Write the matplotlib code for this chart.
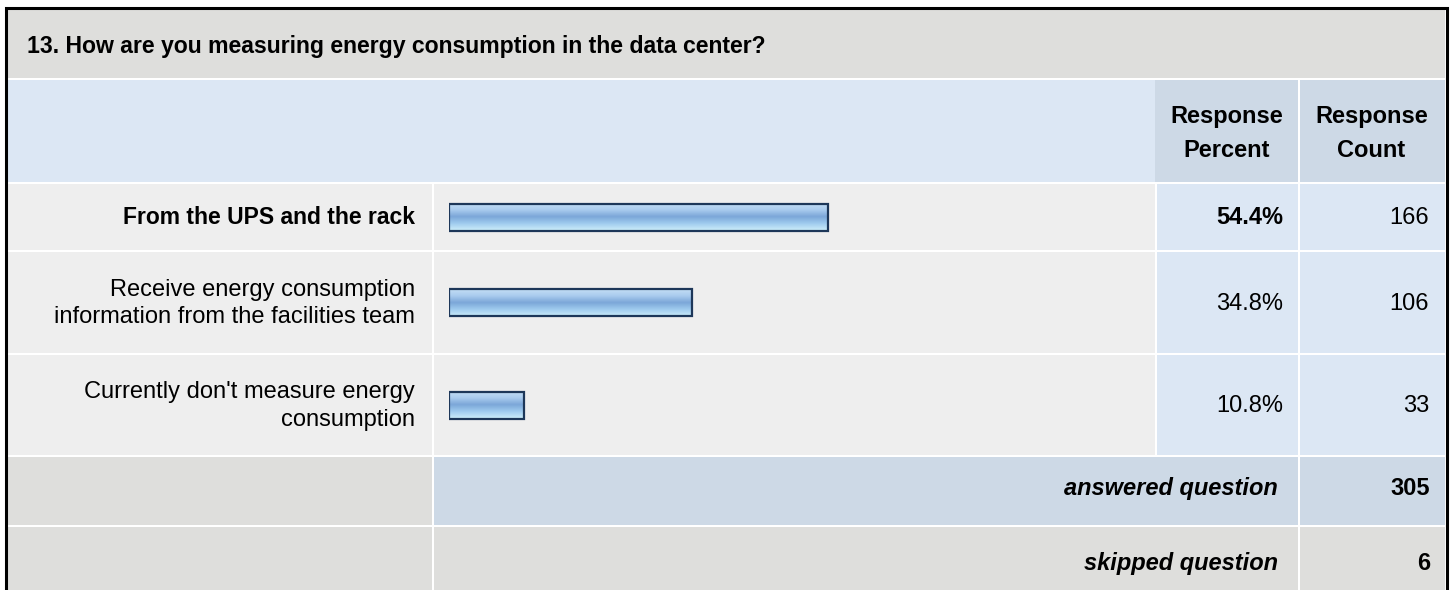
import numpy as np
import matplotlib.pyplot as plt
from matplotlib.colors import LinearSegmentedColormap
from matplotlib.patches import Rectangle

# Survey question 13 results
question = "13. How are you measuring energy consumption in the data center?"
answers = [
    "From the UPS and the rack",
    "Receive energy consumption\ninformation from the facilities team",
    "Currently don't measure energy\nconsumption",
]
percents = [54.4, 34.8, 10.8]
counts = [166, 106, 33]
answered = 305
skipped = 6
header_cols = ["Response\nPercent", "Response\nCount"]

W, H = 1452, 590
FONT = "Liberation Sans"
FS = 17

plt.rcParams['font.family'] = [FONT, 'DejaVu Sans']

fig = plt.figure(figsize=(W / 100, H / 100), dpi=100)
ax = fig.add_axes([0, 0, 1, 1])
ax.set_xlim(0, W)
ax.set_ylim(H, 0)
ax.axis('off')

GRAY = '#dededc'
LIGHT = '#eeeeee'
BLUE = '#dce7f4'
HEAD = '#cdd9e6'


def cell(x0, x1, y0, y1, color):
    ax.add_patch(Rectangle((x0, y0), x1 - x0, y1 - y0, facecolor=color,
                           edgecolor='none', zorder=1))


# column edges and row bands (pixels)
c0, c1, c2, c3, c4 = 7, 432, 1155, 1298, 1445
gap = 2
rows = [(184, 250), (252, 353), (355, 455)]

# title band and header band
cell(c0, c4, 9, 78, GRAY)
cell(c0, c2, 80, 182, BLUE)
cell(c2, c3, 80, 182, HEAD)
cell(c3 + gap, c4, 80, 182, HEAD)

for (y0, y1) in rows:
    cell(c0, c1, y0, y1, LIGHT)
    cell(c1 + gap, c2, y0, y1, LIGHT)
    cell(c2 + gap, c3, y0, y1, BLUE)
    cell(c3 + gap, c4, y0, y1, BLUE)

# summary rows
cell(c0, c1, 457, 525, GRAY)
cell(c1 + gap, c3, 457, 525, HEAD)
cell(c3 + gap, c4, 457, 525, HEAD)
cell(c0, c1, 527, 600, GRAY)
cell(c1 + gap, c3, 527, 600, GRAY)
cell(c3 + gap, c4, 527, 600, GRAY)

# outer frame
ax.plot([6, 6, 1446.5, 1446.5], [600, 8, 8, 600], color='black', lw=2.2,
        solid_joinstyle='miter', zorder=3)

# texts
ax.text(27, 53, question, fontsize=16.6, fontweight='bold', va='baseline', zorder=4)
ax.text((c2 + c3) / 2, 157, header_cols[0], fontsize=FS, fontweight='bold',
        ha='center', va='baseline', linespacing=1.6, zorder=4)
ax.text((c3 + c4) / 2, 157, header_cols[1], fontsize=FS, fontweight='bold',
        ha='center', va='baseline', linespacing=1.6, zorder=4)

for i, ((y0, y1), label, pct, n) in enumerate(zip(rows, answers, percents, counts)):
    yc = (y0 + y1) / 2
    bold = i == 0
    ax.text(415, yc + 1, label, fontsize=16.5 if bold else FS,
            fontweight='bold' if bold else 'normal', ha='right',
            va='center', linespacing=1.3, zorder=4)
    ax.text(1283, yc + 1, f"{pct:.1f}%", fontsize=FS,
            fontweight='bold' if bold else 'normal',
            ha='right', va='center', zorder=4)
    ax.text(1429, yc + 1, str(n), fontsize=FS, ha='right', va='center', zorder=4)

ax.text(1278, 495, "answered question", fontsize=FS, fontweight='bold',
        fontstyle='italic', ha='right', va='baseline', zorder=4)
ax.text(1430, 495, str(answered), fontsize=FS, fontweight='bold',
        ha='right', va='baseline', zorder=4)
ax.text(1278, 570, "skipped question", fontsize=FS, fontweight='bold',
        fontstyle='italic', ha='right', va='baseline', zorder=4)
ax.text(1430, 570, str(skipped), fontsize=FS, fontweight='bold',
        ha='right', va='baseline', zorder=4)

# bar area: 0-100 % across the bar column, pixel rows vertically
bx0, bx1 = 449, 1146
bax = fig.add_axes([bx0 / W, 0, (bx1 - bx0) / W, 1])
bax.axis('off')
bax.patch.set_alpha(0)

grad_cmap = LinearSegmentedColormap.from_list(
    'bar', ['#c4def5', '#a9cbee', '#7ba6d8', '#9ecaee', '#c9ebf9'])
grad = np.linspace(0, 1, 64).reshape(-1, 1)
bar_h = 27
centers = [(y0 + y1) / 2 for (y0, y1) in rows]
for yc, pct in zip(centers, percents):
    bax.imshow(grad, cmap=grad_cmap, aspect='auto', interpolation='bilinear',
               extent=[0, pct, yc + bar_h / 2, yc - bar_h / 2], zorder=2)
bax.barh(centers, percents, height=bar_h, left=0, fill=False,
         edgecolor='#1d3759', linewidth=1.6, zorder=3)
bax.set_xlim(0, 100)
bax.set_ylim(H, 0)

fig.savefig('out.png', dpi=100)
